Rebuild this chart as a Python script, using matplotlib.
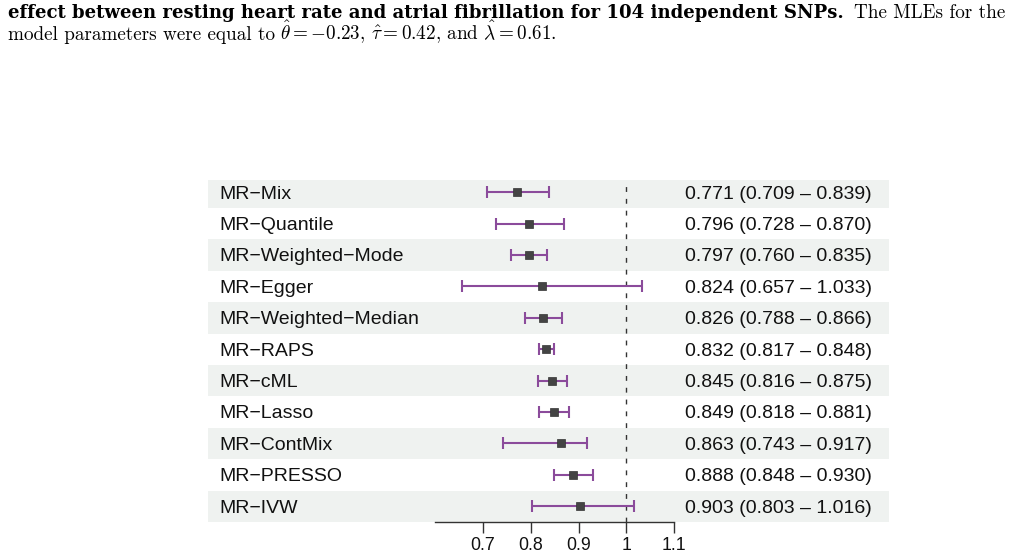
import matplotlib
matplotlib.use("Agg")
import matplotlib.pyplot as plt
import matplotlib.transforms as mtransforms
import numpy as np

# ---- data ----
methods = ["MR−Mix", "MR−Quantile", "MR−Weighted−Mode", "MR−Egger",
           "MR−Weighted−Median", "MR−RAPS", "MR−cML", "MR−Lasso",
           "MR−ContMix", "MR−PRESSO", "MR−IVW"]
estimates = [0.771, 0.796, 0.797, 0.824, 0.826, 0.832, 0.845, 0.849, 0.863, 0.888, 0.903]
lower = [0.709, 0.728, 0.760, 0.657, 0.788, 0.817, 0.816, 0.818, 0.743, 0.848, 0.803]
upper = [0.839, 0.870, 0.835, 1.033, 0.866, 0.848, 0.875, 0.881, 0.917, 0.930, 1.016]
tick_values = [0.7, 0.8, 0.9, 1.0, 1.1]
tick_labels = ["0.7", "0.8", "0.9", "1", "1.1"]

caption_bold = "effect between resting heart rate and atrial fibrillation for 104 independent SNPs."
caption_rest1 = "The MLEs for the"
caption_line2a = "model parameters were equal to"
caption_line2b = r"$\hat{\theta} = -0.23$, $\hat{\tau} = 0.42$, and $\hat{\lambda} = 0.61$."

W, H = 1009, 560
plt.rcParams["mathtext.fontset"] = "cm"
fig = plt.figure(figsize=(W / 100, H / 100), dpi=100)

band_color = "#EFF2F0"
purple = "#8B4B9B"
sans = "Liberation Sans"

ax = fig.add_axes([208 / W, 38 / H, 681 / W, 342 / H])
n = len(methods)
y = np.arange(n)
ax.set_xlim(0.1265, 1.5482)
ax.set_ylim(n - 0.5, -0.39)

for i in range(n):
    if i % 2 == 0:
        ax.axhspan(i - 0.5, i + 0.5, color=band_color, lw=0, zorder=0)

est = np.array(estimates)
lo = np.array(lower)
hi = np.array(upper)
ax.errorbar(est, y, xerr=[est - lo, hi - est], fmt="none", ecolor=purple,
            elinewidth=1.5, capsize=4.5, capthick=1.5, zorder=2)
ax.plot(est, y, "s", color="#444444", ms=5.3, zorder=3, mec="#333333", mew=0.5)
ax.axvline(1.0, color="#333333", lw=1, ls=(0, (3.5, 5)), zorder=1)

for s in ["top", "left", "right"]:
    ax.spines[s].set_visible(False)
ax.spines["bottom"].set_bounds(0.6, 1.1)
ax.spines["bottom"].set_linewidth(1.0)
ax.spines["bottom"].set_color("#333333")
ax.set_xticks(tick_values)
ax.set_xticklabels(tick_labels, fontfamily=sans, fontsize=12.8)
ax.tick_params(axis="x", length=8, width=1, color="#333333", pad=2.5, labelcolor="#111111")
ax.set_yticks([])

trans = mtransforms.blended_transform_factory(ax.transAxes, ax.transData)
for i in range(n):
    ax.text((219 - 208) / 681, i + 0.2, methods[i], transform=trans, ha="left",
            va="baseline", fontfamily=sans, fontsize=14, color="#111111")
    right = f"{estimates[i]:.3f} ({lower[i]:.3f} – {upper[i]:.3f})"
    ax.text((685 - 208) / 681, i + 0.2, right, transform=trans, ha="left",
            va="baseline", fontfamily=sans, fontsize=14, color="#111111")

# ---- caption ----
renderer = fig.canvas.get_renderer()


def text_width(s, size, **kw):
    t = fig.text(0, 0, s, fontsize=size, **kw)
    w = t.get_window_extent(renderer).width
    t.remove()
    return w


reg_kw = dict(fontfamily="cmr10")
bold_kw = dict(fontfamily="DejaVu Serif", fontweight="bold")
reg_size = 10 * 194 / text_width("model parameters were", 10, **reg_kw)

x0, x1 = 7.5, 1005
reg_w = text_width(caption_rest1, reg_size, **reg_kw)
bold_target = x1 - reg_w - 9 - x0
bold_size = 10 * bold_target / text_width(caption_bold, 10, **bold_kw)

base1 = 1 - 17.5 / H
fig.text(x0 / W, base1, caption_bold, fontsize=bold_size, ha="left",
         va="baseline", **bold_kw)
fig.text(x1 / W, base1, caption_rest1, fontsize=reg_size, ha="right",
         va="baseline", **reg_kw)

base2 = 1 - 40.5 / H
w2a = text_width(caption_line2a, reg_size, **reg_kw)
fig.text(x0 / W, base2, caption_line2a, fontsize=reg_size,
         ha="left", va="baseline", **reg_kw)
fig.text((x0 + w2a + 6) / W, base2, caption_line2b, fontsize=reg_size,
         ha="left", va="baseline", **reg_kw)

fig.savefig("out.png", dpi=100)
